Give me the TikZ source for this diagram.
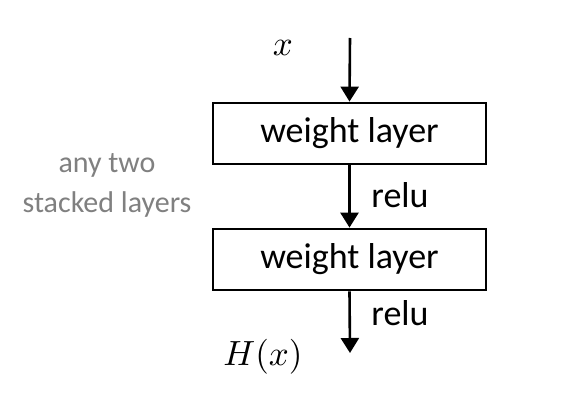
\documentclass[tikz,border=0pt]{standalone}
\usepackage{fontspec}
\setmainfont{Carlito}
\usetikzlibrary{arrows.meta}
\tikzset{
  layerbox/.style={draw=black, line width=2.8pt, minimum width=273pt, minimum height=61pt, inner sep=0pt, font=\fontsize{36}{40}\selectfont},
  flow/.style={line width=2.6pt, -{Triangle[width=18pt,length=15pt]}},
  lbl/.style={font=\fontsize{36}{40}\selectfont, inner sep=0pt},
  mathlbl/.style={font=\normalsize, scale=3.5, inner sep=0pt},
  note/.style={font=\fontsize{30}{40}\selectfont, text=black!50, align=center, inner sep=0pt}
}
\begin{document}
\begin{tikzpicture}[x=1pt,y=-1pt]
\useasboundingbox[fill=white] (0,0) rectangle (566,420);
\coordinate (in) at (350,38);
\node[layerbox] (w1) at (349.5,133.5) {weight layer};
\node[layerbox] (w2) at (349.5,259.5) {weight layer};
\coordinate (out) at (350,353);
\draw[flow] (in) -- (w1.north);
\draw[flow] (w1.south) -- (w2.north);
\draw[flow] (w2.south) -- (out);
\node[lbl] (r1) at (400,195) {relu};
\node[lbl] (r2) at (400,313) {relu};
\node[mathlbl] (xin) at (283,48) {$x$};
\node[mathlbl] (hx) at (263,357) {$H(x)$};
\node[note] (n) at (107,185) {any two\\stacked layers};
\end{tikzpicture}
\end{document}
